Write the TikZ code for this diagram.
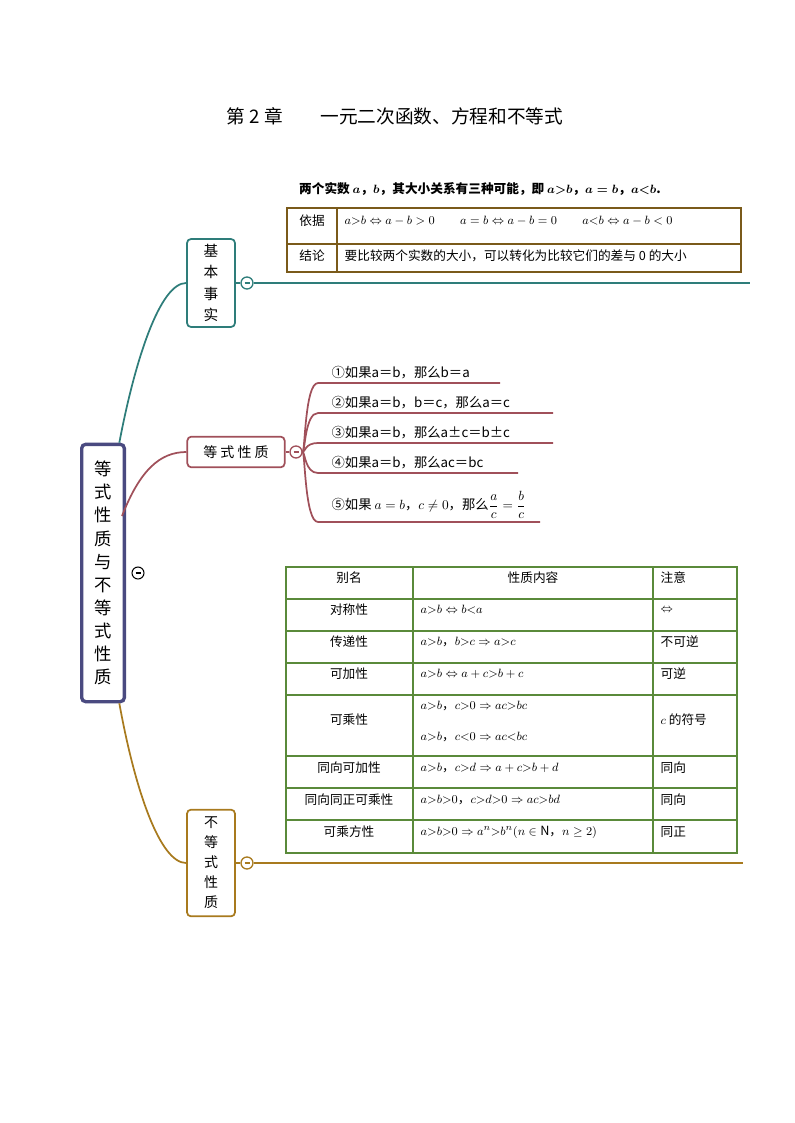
\documentclass[tikz,border=0pt]{standalone}
\usepackage{amsmath,amssymb}
\usepackage{fontspec}
\setmainfont{Noto Sans CJK SC}
\usepackage{xcolor}
\usetikzlibrary{positioning, calc}
\definecolor{teal1}{HTML}{2E7D7A}
\definecolor{maroon1}{HTML}{A0505A}
\definecolor{gold1}{HTML}{A87A1E}
\definecolor{navy1}{HTML}{4A4A80}
\definecolor{brown1}{HTML}{7A5A1A}
\definecolor{green1}{HTML}{5A8A3A}

\begin{document}
\begin{tikzpicture}[
  x=0.75pt, y=-0.75pt,
  every node/.style={font=\fontsize{9.5}{11}\selectfont},
  topic/.style={draw, rounded corners=3pt, line width=1.3pt, fill=white, align=center, inner sep=0pt},
  fold/.style={draw, circle, fill=white, minimum size=9pt, inner sep=0pt, line width=1pt},
  item/.style={anchor=south west, inner sep=1pt, font=\fontsize{10}{12}\selectfont}
]
\useasboundingbox (0,0) rectangle (794,1123);

% Title
\node[font=\fontsize{14}{16}\selectfont] (title) at (395,116) {第 2 章\quad\quad 一元二次函数、方程和不等式};

% Root
\node[topic, draw=navy1, line width=2.5pt, minimum width=32pt, minimum height=193pt,
  font=\fontsize{13}{17.3}\selectfont] (root) at (103,573)
  {等\\式\\性\\质\\与\\不\\等\\式\\性\\质};
\node[fold, draw=black, line width=0.8pt] (rootfold) at (138,573) {};
\draw[line width=1pt] ($(rootfold)+(-2.5,0)$) -- ($(rootfold)+(2.5,0)$);

% Branch 1: basic fact
\node[topic, draw=teal1, minimum width=36pt, minimum height=66pt, font=\fontsize{11}{16}\selectfont]
  (fact) at (211,283) {基\\本\\事\\实};
\draw[teal1, line width=1.3pt] ([xshift=-5pt]root.north east) .. controls (135,360) and (160,283) .. (fact.west);
\node[fold, draw=teal1] (factfold) at (247,283) {};
\draw[teal1, line width=1pt] ($(factfold)+(-2.5,0)$) -- ($(factfold)+(2.5,0)$);
\draw[teal1, line width=1.3pt] (fact.east) -- (factfold.west);
\coordinate (factend) at (750,283);
\draw[teal1, line width=1.3pt] (factfold.east) -- (factend);

\node[font=\fontsize{9.5}{11}\selectfont\bfseries] (factnote) at (480,189)
  {两个实数 $\boldsymbol{a}$，$\boldsymbol{b}$，其大小关系有三种可能，即 $\boldsymbol{a{>}b}$，$\boldsymbol{a=b}$，$\boldsymbol{a{<}b}$.};
% table 1
\draw[brown1, line width=1pt] (287,208) rectangle (741,272);
\draw[brown1, line width=1pt] (337,208) -- (337,272) (287,244) -- (741,244);
\node (basis) at (312,221) {依据};
\node (concl) at (312,256) {结论};
\node[anchor=west] (basisrow) at (340,221) {$a{>}b\Leftrightarrow a-b>0$\qquad $a=b\Leftrightarrow a-b=0$\qquad $a{<}b\Leftrightarrow a-b<0$};
\node[anchor=west] (conclrow) at (340,256) {要比较两个实数的大小，可以转化为比较它们的差与 0 的大小};

% Branch 2: equality properties
\node[topic, draw=maroon1, minimum width=73pt, minimum height=23pt, font=\fontsize{10.5}{12}\selectfont]
  (eqprop) at (236,452) {等 式 性 质};
\draw[maroon1, line width=1.3pt] ([xshift=-3pt,yshift=-55pt]root.north east) .. controls (140,470) and (160,452) .. (eqprop.west);
\node[fold, draw=maroon1] (eqfold) at (296,452) {};
\draw[maroon1, line width=1pt] ($(eqfold)+(-2.5,0)$) -- ($(eqfold)+(2.5,0)$);
\draw[maroon1, line width=1.3pt] (eqprop.east) -- (eqfold.west);
\foreach \n/\y/\xe/\txt in {
  1/383/500/{①如果a＝b，那么b＝a},
  2/413/553/{②如果a＝b，b＝c，那么a＝c},
  3/443/553/{③如果a＝b，那么a±c＝b±c},
  4/473/518/{④如果a＝b，那么ac＝bc},
  5/522/540/{⑤如果 $a=b$，$c\neq0$，那么$\dfrac{a}{c}=\dfrac{b}{c}$}} {
  \coordinate (eqs\n) at (318,\y);
  \coordinate (eqe\n) at (\xe,\y);
  \draw[maroon1, line width=1.3pt] (eqfold.east) .. controls (305,452) and (305,\y) .. (eqs\n) -- (eqe\n);
  \node[item] (eqtxt\n) at (330,\y-2) {\txt};
}

% Branch 3: inequality properties
\node[topic, draw=gold1, minimum width=36pt, minimum height=80pt, font=\fontsize{10.5}{15}\selectfont]
  (ineq) at (211,863) {不\\等\\式\\性\\质};
\draw[gold1, line width=1.3pt] ([xshift=-5pt]root.south east) .. controls (135,790) and (160,863) .. (ineq.west);
\node[fold, draw=gold1] (ineqfold) at (247,863) {};
\draw[gold1, line width=1pt] ($(ineqfold)+(-2.5,0)$) -- ($(ineqfold)+(2.5,0)$);
\draw[gold1, line width=1.3pt] (ineq.east) -- (ineqfold.west);
\coordinate (ineqend) at (743,863);
\draw[gold1, line width=1.3pt] (ineqfold.east) -- (ineqend);

% table 2
\draw[green1, line width=1pt] (286,567) rectangle (737,853);
\draw[green1, line width=1pt] (413,567) -- (413,853) (653,567) -- (653,853);
\foreach \y in {599,631,663,695,756,788,820}
  \draw[green1, line width=1pt] (286,\y) -- (737,\y);
\foreach \y/\name/\body/\note in {
  578/{别名}/{}/{注意},
  610/{对称性}/{$a{>}b\Leftrightarrow b{<}a$}/{$\Leftrightarrow$},
  642/{传递性}/{$a{>}b$，$b{>}c\Rightarrow a{>}c$}/{不可逆},
  674/{可加性}/{$a{>}b\Leftrightarrow a+c{>}b+c$}/{可逆},
  768/{同向可加性}/{$a{>}b$，$c{>}d\Rightarrow a+c{>}b+d$}/{同向},
  800/{同向同正可乘性}/{$a{>}b{>}0$，$c{>}d{>}0\Rightarrow ac{>}bd$}/{同向},
  832/{可乘方性}/{$a{>}b{>}0\Rightarrow a^n{>}b^n(n\in\mathrm{N}$，$n\geq2)$}/{同正}} {
  \node at (349,\y) {\name};
  \node[anchor=west] at (416,\y) {\body};
  \node[anchor=west] at (656,\y) {\note};
}
\node (colhead) at (533,578) {性质内容};
\node (multname) at (349,720) {可乘性};
\node[anchor=west] (mult1) at (416,706) {$a{>}b$，$c{>}0\Rightarrow ac{>}bc$};
\node[anchor=west] (mult2) at (416,737) {$a{>}b$，$c{<}0\Rightarrow ac{<}bc$};
\node[anchor=west] (multnote) at (656,720) {$c$ 的符号};

\end{tikzpicture}
\end{document}
